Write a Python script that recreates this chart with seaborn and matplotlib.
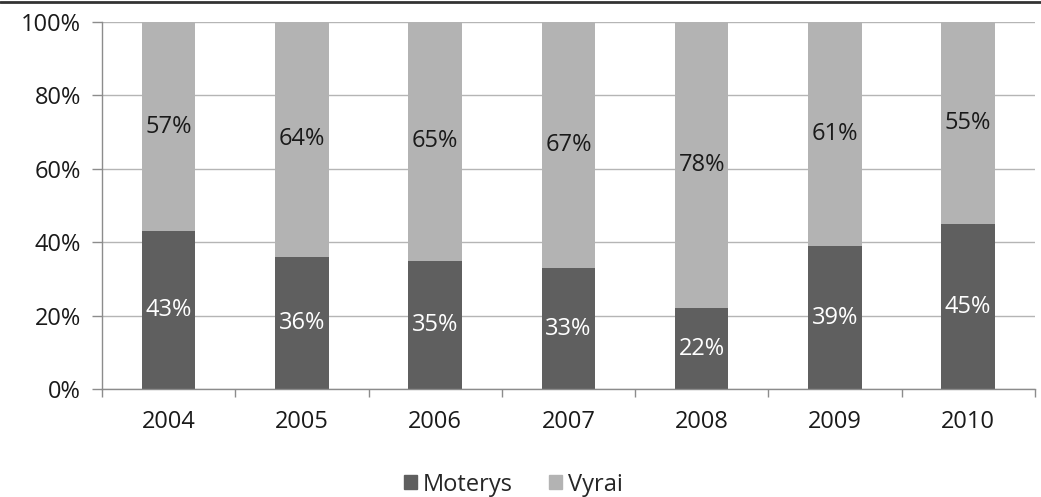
import pandas as pd
import matplotlib.pyplot as plt
import seaborn as sns
from matplotlib.lines import Line2D
from matplotlib.patches import Patch

# Data
years = ['2004', '2005', '2006', '2007', '2008', '2009', '2010']
moterys = [43, 36, 35, 33, 22, 39, 45]
vyrai = [57, 64, 65, 67, 78, 61, 55]

dark = '#5f5f5f'
light = '#b3b3b3'
fs = 17

sns.set_theme(style="white")
plt.rcParams['font.family'] = ['Open Sans', 'DejaVu Sans']

df = pd.DataFrame({'year': years, 'Moterys': moterys, 'Vyrai': vyrai})
df['total'] = df['Moterys'] + df['Vyrai']

fig, ax = plt.subplots(figsize=(10.41, 4.97), dpi=100)
fig.subplots_adjust(left=0.098, right=0.994, top=0.956, bottom=0.217)

ax.set_axisbelow(True)
ax.yaxis.grid(True, color='#b5b5b5', linewidth=1)

# stacked: full height in light grey, bottom part in dark grey
sns.barplot(data=df, x='year', y='total', color=light, saturation=1, width=0.4,
            linewidth=0, ax=ax)
sns.barplot(data=df, x='year', y='Moterys', color=dark, saturation=1, width=0.4,
            linewidth=0, ax=ax)

for i, (m, v) in enumerate(zip(moterys, vyrai)):
    ax.text(i, m / 2, f'{m}%', ha='center', va='center', color='white', fontsize=fs)
    ax.text(i, m + v / 2, f'{v}%', ha='center', va='center', color='#1a1a1a', fontsize=fs)

ax.set_ylim(0, 100)
ax.set_xlim(-0.5, len(years) - 0.5)
ax.set_yticks([0, 20, 40, 60, 80, 100])
ax.set_yticklabels([f'{t}%' for t in [0, 20, 40, 60, 80, 100]])
ax.set_xlabel('')
ax.set_ylabel('')

ax.set_xticks([i + 0.5 for i in range(-1, len(years))], minor=True)
ax.tick_params(axis='x', which='major', length=0, pad=15, labelsize=fs, colors='#1a1a1a')
ax.tick_params(axis='x', which='minor', length=6, color='#8c8c8c', width=1, bottom=True)
ax.tick_params(axis='y', length=7, color='#8c8c8c', width=1, left=True, labelsize=fs,
               colors='#1a1a1a', pad=8)

for s in ['top', 'right']:
    ax.spines[s].set_visible(False)
for s in ['left', 'bottom']:
    ax.spines[s].set_color('#8c8c8c')
    ax.spines[s].set_linewidth(1)

handles = [Patch(color=dark, label='Moterys'), Patch(color=light, label='Vyrai')]
leg = ax.legend(handles=handles, loc='center', bbox_to_anchor=(0.441, -0.26), ncol=2,
                frameon=False, fontsize=fs, handlelength=0.55, handleheight=0.55,
                handletextpad=0.25, columnspacing=1.5)

fig.add_artist(Line2D([0, 1], [0.996, 0.996], color='#333333', linewidth=2,
                      transform=fig.transFigure))

fig.savefig('out.png', dpi=100)
